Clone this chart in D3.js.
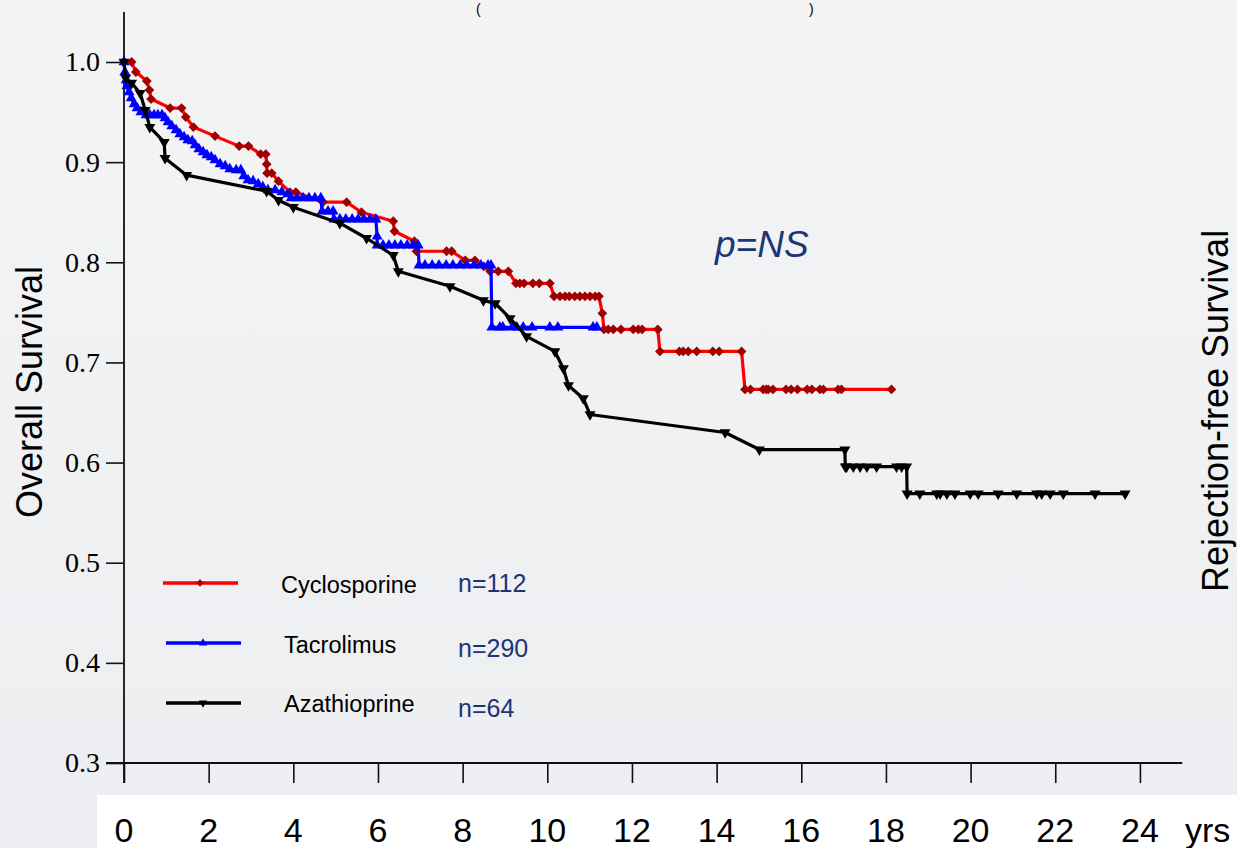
<!DOCTYPE html>
<html>
<head>
<meta charset="utf-8">
<script src="https://cdn.jsdelivr.net/npm/d3@7"></script>
<style>
  html, body { margin: 0; padding: 0; overflow: hidden; }
  svg { display: block; }
</style>
</head>
<body>
<svg id="chart" width="1237" height="848"></svg>
<script>
// Kaplan–Meier overall survival by immunosuppression regimen
const seriesNames = ["Cyclosporine", "Tacrolimus", "Azathioprine"];
const seriesCounts = ["n=112", "n=290", "n=64"];

// [years, survival] at each plotted point (events and censored cases)
const cyclosporine = [
  [0, 1.0], [0.18, 1.0], [0.28, 0.990], [0.54, 0.981], [0.60, 0.972], [0.64, 0.963],
  [1.09, 0.954], [1.36, 0.954], [1.46, 0.945], [1.64, 0.935], [2.15, 0.926],
  [2.72, 0.916], [2.94, 0.916], [3.23, 0.908], [3.35, 0.908], [3.37, 0.898],
  [3.38, 0.889], [3.49, 0.889], [3.65, 0.881], [3.92, 0.870], [4.06, 0.870],
  [4.70, 0.860], [5.26, 0.860], [5.61, 0.850], [6.36, 0.841], [6.39, 0.831],
  [6.86, 0.821], [6.91, 0.811], [7.62, 0.811], [7.74, 0.811], [8.06, 0.802],
  [8.29, 0.802], [8.50, 0.796], [8.65, 0.791], [8.84, 0.791], [9.08, 0.791],
  [9.26, 0.779], [9.35, 0.779], [9.45, 0.779], [9.66, 0.779], [9.81, 0.779], [10.06, 0.779],
  [10.16, 0.766], [10.30, 0.766], [10.42, 0.766], [10.52, 0.766], [10.65, 0.766],
  [10.77, 0.766], [10.89, 0.766], [11.01, 0.766], [11.13, 0.766], [11.22, 0.766],
  [11.30, 0.749], [11.34, 0.733], [11.44, 0.733], [11.56, 0.733], [11.74, 0.733],
  [12.03, 0.733], [12.15, 0.733], [12.24, 0.733], [12.61, 0.733],
  [12.66, 0.711], [13.12, 0.711], [13.21, 0.711], [13.33, 0.711], [13.53, 0.711],
  [13.91, 0.711], [14.06, 0.711], [14.59, 0.711],
  [14.67, 0.673], [14.80, 0.673], [15.10, 0.673], [15.17, 0.673], [15.22, 0.673],
  [15.33, 0.673], [15.64, 0.673], [15.76, 0.673], [15.91, 0.673], [16.14, 0.673],
  [16.25, 0.673], [16.44, 0.673], [16.52, 0.673], [16.87, 0.673], [16.95, 0.673],
  [18.13, 0.673]
];

const tacrolimus = [
  [0, 1.0], [0.02, 0.990], [0.05, 0.982], [0.07, 0.976], [0.12, 0.970], [0.17, 0.964],
  [0.24, 0.958], [0.31, 0.954], [0.40, 0.950], [0.52, 0.947], [0.61, 0.947],
  [0.71, 0.947], [0.80, 0.947], [0.90, 0.947], [0.97, 0.944], [1.04, 0.940],
  [1.13, 0.936], [1.23, 0.932], [1.32, 0.928], [1.42, 0.925], [1.51, 0.922],
  [1.61, 0.921], [1.68, 0.917], [1.77, 0.913], [1.87, 0.910], [1.96, 0.907],
  [2.06, 0.905], [2.15, 0.902], [2.27, 0.898], [2.39, 0.896], [2.50, 0.893],
  [2.65, 0.892], [2.76, 0.892], [2.83, 0.886], [2.93, 0.882], [3.05, 0.881],
  [3.17, 0.878], [3.28, 0.875], [3.40, 0.872], [3.57, 0.872], [3.73, 0.870],
  [3.87, 0.868], [3.95, 0.864], [4.09, 0.864], [4.23, 0.864], [4.37, 0.864],
  [4.51, 0.864], [4.65, 0.864], [4.68, 0.851], [4.82, 0.851], [4.94, 0.851],
  [4.96, 0.843], [5.10, 0.843], [5.24, 0.843], [5.39, 0.843], [5.53, 0.843],
  [5.67, 0.843], [5.81, 0.843], [5.95, 0.843], [5.98, 0.826], [5.98, 0.817],
  [6.12, 0.817], [6.26, 0.817], [6.40, 0.817], [6.54, 0.817], [6.69, 0.817],
  [6.83, 0.817], [6.95, 0.817], [6.97, 0.797], [7.11, 0.797], [7.28, 0.797],
  [7.44, 0.797], [7.61, 0.797], [7.77, 0.797], [7.94, 0.797], [8.10, 0.797],
  [8.27, 0.797], [8.43, 0.797], [8.60, 0.797], [8.67, 0.797],
  [8.69, 0.735], [8.88, 0.735], [8.95, 0.735], [9.17, 0.735], [9.28, 0.735],
  [9.43, 0.735], [9.64, 0.735], [10.06, 0.735], [10.25, 0.735], [11.08, 0.735],
  [11.17, 0.735]
];

const azathioprine = [
  [0, 1.0], [0.04, 0.984], [0.18, 0.979], [0.38, 0.969], [0.50, 0.952], [0.61, 0.935],
  [0.95, 0.920], [0.97, 0.904], [1.48, 0.887], [3.37, 0.871], [3.65, 0.862],
  [4.00, 0.855], [5.10, 0.839], [5.73, 0.824], [6.36, 0.807], [6.48, 0.791],
  [7.70, 0.776], [8.49, 0.762], [8.77, 0.759], [9.12, 0.744], [9.51, 0.726],
  [10.18, 0.711], [10.38, 0.694], [10.50, 0.677], [10.85, 0.664], [11.01, 0.648],
  [14.20, 0.630], [15.01, 0.613], [17.03, 0.613], [17.04, 0.596], [17.07, 0.596],
  [17.23, 0.596], [17.39, 0.596], [17.55, 0.596], [17.78, 0.596], [18.25, 0.596],
  [18.37, 0.596], [18.49, 0.596], [18.50, 0.569], [18.80, 0.569], [19.20, 0.569],
  [19.28, 0.569], [19.44, 0.569], [19.63, 0.569], [19.99, 0.569], [20.18, 0.569],
  [20.65, 0.569], [21.09, 0.569], [21.56, 0.569], [21.68, 0.569], [21.88, 0.569],
  [22.19, 0.569], [22.94, 0.569], [23.65, 0.569]
];

const yTicks = [0.3, 0.4, 0.5, 0.6, 0.7, 0.8, 0.9, 1.0];
const xTicks = [0, 2, 4, 6, 8, 10, 12, 14, 16, 18, 20, 22, 24];
const xTickLabels = ["0", "2", "4", "6", "8", "10", "12", "14", "16", "18", "20", "22", "24"];

const svg = d3.select("#chart");
const W = 1237, H = 848;

// slide background
const defs = svg.append("defs");
const grad = defs.append("linearGradient").attr("id", "bg").attr("x1", 0).attr("y1", 0).attr("x2", 0).attr("y2", 1);
grad.append("stop").attr("offset", "0%").attr("stop-color", "#f4f4f4");
grad.append("stop").attr("offset", "100%").attr("stop-color", "#eceef1");
svg.append("rect").attr("width", W).attr("height", H).attr("fill", "url(#bg)");
svg.append("rect").attr("x", 97).attr("y", 795).attr("width", W - 97).attr("height", H - 795).attr("fill", "#ffffff");

const x = d3.scaleLinear().domain([0, 25]).range([124, 124 + 25 * 42.33]);
const y = d3.scaleLinear().domain([0.3, 1.0]).range([763, 62]);

const sans = "Arial, Liberation Sans, sans-serif";

// title brackets at the top edge
svg.append("text").attr("x", 476).attr("y", 14).attr("font-family", sans)
  .attr("font-size", 14).attr("fill", "#000").text("(");
svg.append("text").attr("x", 809).attr("y", 14).attr("font-family", sans)
  .attr("font-size", 14).attr("fill", "#000").text(")");

// axes
const axisColor = "#111";
const gy = svg.append("g").attr("transform", `translate(${x(0)},0)`)
  .call(d3.axisLeft(y).tickValues(yTicks).tickSize(18).tickSizeOuter(0).tickFormat(d3.format(".1f")));
gy.select(".domain").remove();
gy.selectAll(".tick line").attr("stroke", axisColor).attr("stroke-width", 1.6);
gy.selectAll(".tick text").attr("x", -24).attr("font-family", "Liberation Serif, Times New Roman, serif")
  .attr("font-size", 28).attr("fill", "#000");

const gx = svg.append("g").attr("transform", `translate(0,${y(0.3)})`)
  .call(d3.axisBottom(x).tickValues(xTicks).tickSize(20).tickSizeOuter(0).tickFormat(""));
gx.select(".domain").remove();
gx.selectAll(".tick line").attr("stroke", axisColor).attr("stroke-width", 1.6);

svg.append("line").attr("x1", x(0)).attr("x2", x(0)).attr("y1", y(1.05)).attr("y2", y(0.3) + 20)
  .attr("stroke", axisColor).attr("stroke-width", 1.8);
svg.append("line").attr("x1", x(0) - 18).attr("x2", x(25)).attr("y1", y(0.3)).attr("y2", y(0.3))
  .attr("stroke", axisColor).attr("stroke-width", 1.8);

// x tick labels on the white band
svg.append("g").selectAll("text").data(xTicks).join("text")
  .attr("x", d => x(d)).attr("y", 842).attr("text-anchor", "middle")
  .attr("font-family", sans).attr("font-size", 34).attr("fill", "#000")
  .text((d, i) => xTickLabels[i]);
svg.append("text").attr("x", x(24) + 45).attr("y", 842).attr("font-family", sans)
  .attr("font-size", 34).attr("fill", "#000").text("yrs");

// axis titles
svg.append("text").attr("transform", `translate(42,392) rotate(-90)`).attr("text-anchor", "middle")
  .attr("font-family", sans).attr("font-size", 36).attr("fill", "#000").text("Overall Survival");
svg.append("text").attr("transform", `translate(1228,592) rotate(-90)`).attr("text-anchor", "start")
  .attr("font-family", sans).attr("font-size", 36).attr("fill", "#000").text("Rejection-free Survival");

// curves
const series = [
  { data: cyclosporine, line: "#ff0000", mark: "#a00000", shape: "diamond" },
  { data: tacrolimus, line: "#0000ff", mark: "#0000ff", shape: "up" },
  { data: azathioprine, line: "#000000", mark: "#000000", shape: "down" }
];
const lineGen = d3.line().x(d => x(d[0])).y(d => y(d[1]));
const symPath = {
  diamond: d3.symbol().type(d3.symbolSquare).size(48)(),
  up: d3.symbol().type(d3.symbolTriangle).size(52)(),
  down: d3.symbol().type(d3.symbolTriangle).size(52)()
};
const symRot = { diamond: 45, up: 0, down: 180 };

series.forEach(s => {
  const g = svg.append("g");
  g.append("path").datum(s.data).attr("d", lineGen).attr("fill", "none")
    .attr("stroke", s.line).attr("stroke-width", 3.2).attr("stroke-linejoin", "round");
  g.selectAll("path.m").data(s.data).join("path").attr("class", "m")
    .attr("d", symPath[s.shape])
    .attr("transform", d => `translate(${x(d[0])},${y(d[1])}) rotate(${symRot[s.shape]})`)
    .attr("fill", s.mark);
});

// p-value
svg.append("text").attr("x", 715).attr("y", 257).attr("font-family", sans).attr("font-style", "italic")
  .attr("font-size", 37).attr("fill", "#1c3575").text("p=NS");

// legend
const legY = [583, 643, 703];
const legTextY = [593, 653, 712];
const nY = [592, 657, 717];
const leg = svg.append("g");
series.forEach((s, i) => {
  const x0 = i === 0 ? 163 : 166;
  leg.append("line").attr("x1", x0).attr("x2", x0 + 75).attr("y1", legY[i]).attr("y2", legY[i])
    .attr("stroke", s.line).attr("stroke-width", 3.5);
  leg.append("path").attr("d", d3.symbol().type(s.shape === "diamond" ? d3.symbolSquare : d3.symbolTriangle).size(30)())
    .attr("transform", `translate(${x0 + 37},${legY[i]}) rotate(${symRot[s.shape]})`).attr("fill", s.mark);
  leg.append("text").attr("x", i === 0 ? 281 : 284).attr("y", legTextY[i]).attr("font-family", sans)
    .attr("font-size", 23.5).attr("fill", "#000").text(seriesNames[i]);
  leg.append("text").attr("x", 458).attr("y", nY[i]).attr("font-family", sans)
    .attr("font-size", 25).attr("fill", "#1c3575").text(seriesCounts[i]);
});
</script>
</body>
</html>
